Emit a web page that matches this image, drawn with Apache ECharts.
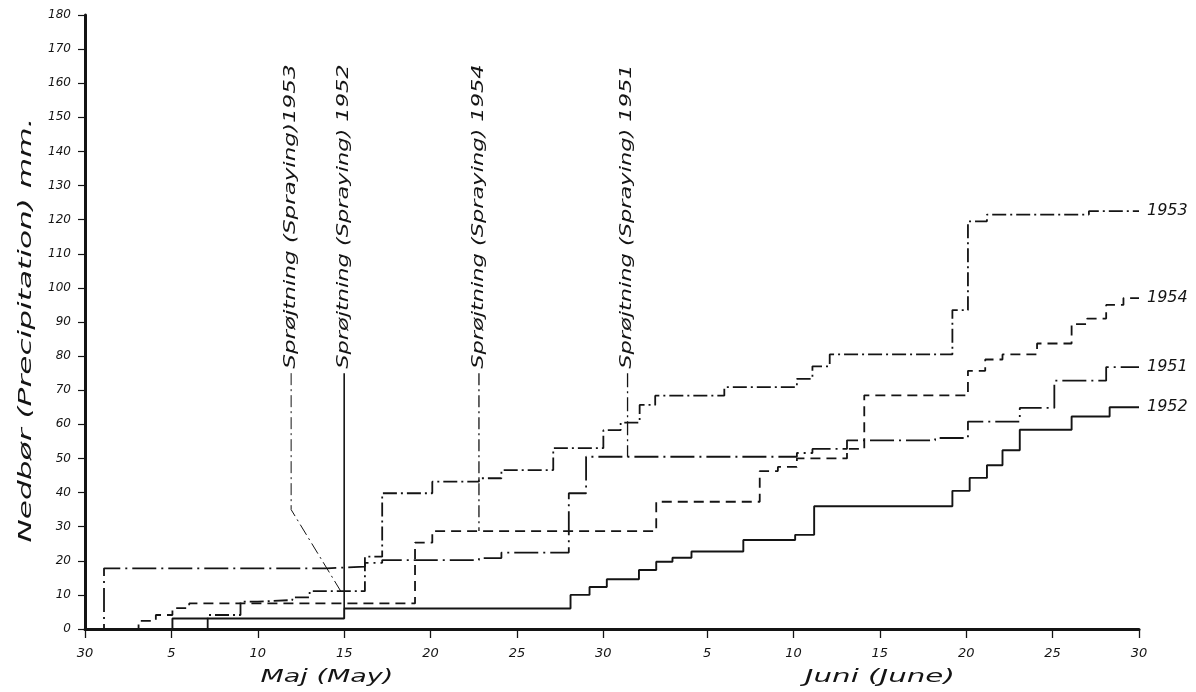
<!DOCTYPE html>
<html><head><meta charset="utf-8">
<script src="https://cdn.jsdelivr.net/npm/echarts@6/dist/echarts.min.js"></script>
<style>html,body{margin:0;padding:0;background:#fff}#c{width:1196px;height:692px}</style>
</head><body><div id="c"></div>
<script>
// Days counted from 30 April (0) ... 31 May (31) ... 30 June (61)
// Each point: [day of rise, cumulative precipitation mm from that day]
const seriesNames = ['1953', '1954', '1951', '1952'];
const s1953 = [[0,0],[7.1,4.1],[9,8],[10,8.5],[12,9.3],[13,11.1],[16.2,21.2],[17.2,39.8],[20.1,43.2],[22.8,44.2],[24.1,46.6],[27.1,53],[30,58.3],[31,60.5],[32.1,65.7],[33,68.4],[37,70.9],[41.2,73.3],[42.1,77],[43.1,80.5],[50.2,93.5],[51.1,119.5],[52.2,121.5],[58.1,122.5],[61,122.5]];
const s1954 = [[0,0],[3.1,2.4],[4.1,4.1],[5.06,6.1],[6.03,7.5],[19.1,25.3],[20.1,28.7],[33.06,37.3],[39.05,46.3],[40.1,47.5],[41.2,50],[44.1,52.8],[45.1,68.5],[51.1,75.7],[52.1,79],[53.1,80.5],[55.1,83.7],[57.1,89.4],[58,91],[59.1,95],[60.1,97],[61,97]];
const s1951 = [[0,0],[1.1,17.8],[14,18.3],[16.2,19.4],[17.2,20.2],[22.8,20.8],[24.1,22.4],[28,39.8],[29,50.5],[41.2,51.6],[42.1,52.8],[44.1,55.3],[49.2,56],[51.1,60.8],[54.1,64.8],[56.1,72.8],[59.1,76.8],[61,76.8]];
const s1952 = [[0,0],[5.06,3.1],[15,6],[28.1,10],[29.2,12.3],[30.2,14.6],[32.06,17.3],[33.06,19.7],[34,20.9],[35.1,22.7],[38.1,26.1],[41.1,27.6],[42.2,36],[50.2,40.5],[51.2,44.3],[52.2,48],[53.1,52.4],[54.1,58.4],[57.1,62.3],[59.3,65],[61,65]];

const xTickDays = [0,5,10,15,20,25,30,36,41,46,51,56,61];
const xTickLabels = ['30','5','10','15','20','25','30','5','10','15','20','25','30'];
const monthNames = ['Maj (May)', 'Juni (June)'];
const monthCenterDays = [14, 46];
const yAxisTitle = 'Nedbør (Precipitation) mm.';

const sprayTexts = ['Sprøjtning (Spraying)1953', 'Sprøjtning (Spraying) 1952', 'Sprøjtning (Spraying) 1954', 'Sprøjtning (Spraying) 1951'];
const sprayLeaders = [
  [[11.93,75],[11.93,35],[14.8,11.1]],
  [[15,75],[15,6]],
  [[22.8,75],[22.8,28.7]],
  [[31.4,75],[31.4,50.5]]
];
const sprayTextFrom = 76.3;   // value where the rotated text begins
const sprayTextTo = 165.5;    // value where it ends

const FONT = '"DejaVu Sans", "Liberation Sans", sans-serif';
const INK = '#141414';

const lineStyles = {
  '1953': {type: [14,4,2,4], width: 1.8},
  '1954': {type: [10,6], width: 1.8},
  '1951': {type: [24,5,2,5], width: 1.8},
  '1952': {type: 'solid', width: 1.9}
};
const dataMap = {'1953': s1953, '1954': s1954, '1951': s1951, '1952': s1952};
const leaderStyles = [
  {type: [12,4,2,4], width: 1},
  {type: 'solid', width: 1.6},
  {type: [12,4,2,4], width: 1.3},
  {type: [14,4,2,4], width: 1.3}
];

const chart = echarts.init(document.getElementById('c'), null, {renderer: 'canvas'});

const series = seriesNames.map(n => ({
  name: n, type: 'line', step: 'end', data: dataMap[n], symbol: 'none',
  lineStyle: Object.assign({color: INK}, lineStyles[n]),
  endLabel: {show: true, formatter: '{a}', color: INK, fontSize: 16, fontStyle: 'italic', fontFamily: FONT, distance: 8},
  z: 3
}));
sprayLeaders.forEach((pts, i) => series.push({
  name: 'leader' + i, type: 'line', data: pts, symbol: 'none',
  lineStyle: Object.assign({color: INK}, leaderStyles[i]), z: 2
}));

chart.setOption({
  animation: false,
  backgroundColor: '#fff',
  grid: {left: 85, right: 57, top: 15, bottom: 63},
  xAxis: {
    type: 'value', min: 0, max: 61,
    axisLine: {show: true, lineStyle: {color: INK, width: 3}},
    axisTick: {show: true, customValues: xTickDays, length: 9, inside: false, lineStyle: {color: INK, width: 1.3}},
    axisLabel: {customValues: xTickDays, formatter: v => xTickLabels[xTickDays.indexOf(v)] || '', margin: 18, color: INK, fontSize: 13, fontStyle: 'italic', fontFamily: FONT},
    splitLine: {show: false}
  },
  yAxis: {
    type: 'value', min: 0, max: 180, interval: 10,
    axisLine: {show: true, lineStyle: {color: INK, width: 3}},
    axisTick: {show: true, length: 7, lineStyle: {color: INK, width: 1.2}},
    axisLabel: {margin: 14, color: INK, fontSize: 12, fontStyle: 'italic', fontFamily: FONT},
    splitLine: {show: false}
  },
  series: series
});

// text annotations
const ctx = document.createElement('canvas').getContext('2d');
function scaledText(text, font, targetLen) {
  ctx.font = font;
  const w = ctx.measureText(text).width;
  return targetLen / w;
}
const graphics = [];
sprayTexts.forEach((t, i) => {
  const day = sprayLeaders[i][0][0];
  const p0 = chart.convertToPixel({gridIndex: 0}, [day, sprayTextFrom]);
  const p1 = chart.convertToPixel({gridIndex: 0}, [day, sprayTextTo]);
  const font = 'italic 15px ' + FONT;
  const sc = scaledText(t, font, p0[1] - p1[1]);
  graphics.push({type: 'text', x: p0[0], y: p0[1], rotation: Math.PI / 2, scaleX: sc, scaleY: 1,
    style: {text: t, font: font, fill: INK, textAlign: 'left', textVerticalAlign: 'middle'}});
});
monthNames.forEach((t, i) => {
  const p = chart.convertToPixel({gridIndex: 0}, [monthCenterDays[i], 0]);
  const font = 'italic 18px ' + FONT;
  const sc = scaledText(t, font, i === 0 ? 133 : 150);
  graphics.push({type: 'text', x: p[0], y: p[1] + 48, scaleX: sc,
    style: {text: t, font: font, fill: INK, textAlign: 'center', textVerticalAlign: 'middle'}});
});
{
  const font = 'italic 18px ' + FONT;
  const sc = scaledText(yAxisTitle, font, 425);
  graphics.push({type: 'text', x: 26, y: 330, rotation: Math.PI / 2, scaleX: sc,
    style: {text: yAxisTitle, font: font, fill: INK, textAlign: 'center', textVerticalAlign: 'middle'}});
}
chart.setOption({graphic: graphics});
</script>
</body></html>
